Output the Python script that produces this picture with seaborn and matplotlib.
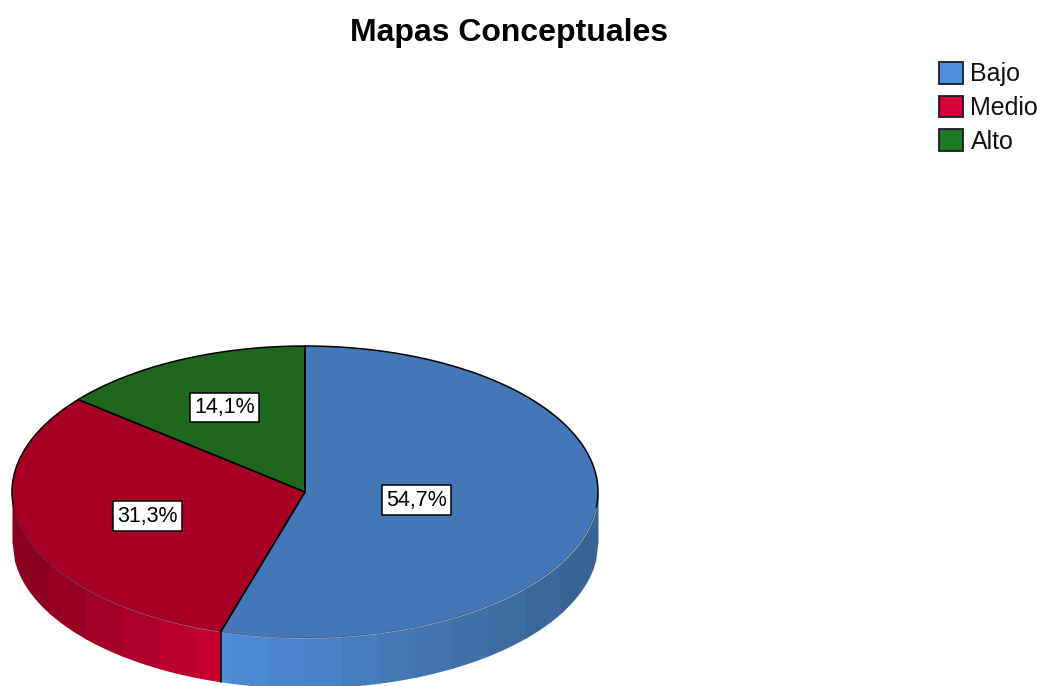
import numpy as np
import matplotlib
matplotlib.use('Agg')
import matplotlib.pyplot as plt
from matplotlib.patches import Patch
import seaborn as sns

# Mapas Conceptuales data
categories = ['Bajo', 'Medio', 'Alto']
shares = [54.7, 31.3, 14.1]
top_colors = ['#4477b8', '#a80024', '#1f661e']
legend_colors = ['#4f8fdf', '#d60036', '#1f7a26']
label_radius = [0.385, 0.563, 0.64]

sns.set_theme(style='white')
plt.rcParams['font.family'] = ['Liberation Sans', 'DejaVu Sans']

W, H = 1042, 686
cx, cy = 305, 492        # centre of the top ellipse, pixels
rx, ry = 293, 146        # ellipse radii, pixels
depth = 50 / ry

fig = plt.figure(figsize=(W / 100, H / 100), dpi=100)
ax = fig.add_axes([0, 0, 1, 1])

wedges, _ = ax.pie(shares, colors=top_colors, startangle=90, counterclock=False,
                   radius=1, wedgeprops={'linewidth': 0})
ax.set_aspect('auto')
ax.set_xlim(-cx / rx, (W - cx) / rx)
ax.set_ylim((cy - H) / ry, cy / ry)

# angles of the slice borders, clockwise from 12 o'clock
total = sum(shares)
borders = 90 - 360 * np.cumsum([0] + shares) / total
mids = (borders[:-1] + borders[1:]) / 2
split_x = np.cos(np.radians(borders[1]))   # blue/red border on the front wall


def wall_shade(x, base_light, base_dark):
    # brightest a bit left of the middle, getting darker to both sides
    t = np.clip(abs(x + 0.3) / 1.3 if x > -0.3 else abs(x + 0.3) / 0.7, 0, 1)
    a = np.array(matplotlib.colors.to_rgb(base_light))
    b = np.array(matplotlib.colors.to_rgb(base_dark))
    return tuple(a + (b - a) * t)


# side wall, drawn in vertical bands, each one overlapping the next
band_edges = np.linspace(-1, 1, 17)
band_edges = np.sort(np.append(band_edges, split_x))
for x0, x1 in zip(band_edges[:-1], band_edges[1:]):
    xm = (x0 + x1) / 2
    x_end = x1 + 0.006 if xm < split_x else min(x1 + 0.006, 1)
    if xm < split_x:
        x_end = min(x_end, split_x)
        col = wall_shade(xm, '#c8002f', '#85001f')
    else:
        col = wall_shade(xm, '#4f8ddb', '#37618f')
    xs = np.linspace(x0, x_end, 16)
    low = -np.sqrt(np.clip(1 - xs ** 2, 0, 1))
    ax.fill_between(xs, low, low - depth, color=col, linewidth=0, zorder=1)

# pie top above the wall
for w in wedges:
    w.set_zorder(2)

# outlines
t = np.radians(np.linspace(-6, 186, 200))
ax.plot(np.cos(t), np.sin(t), color='black', lw=1.1, zorder=3)
t = np.radians(np.linspace(180, 360, 200))
ax.plot(np.cos(t), np.sin(t), color='#1c1c30', lw=0.6, alpha=0.55, zorder=3)
for b in borders[:-1]:
    ax.plot([0, np.cos(np.radians(b))], [0, np.sin(np.radians(b))],
            color='black', lw=1.3, zorder=3)
low_y = np.sin(np.radians(borders[1]))
ax.plot([split_x, split_x], [low_y, low_y - depth], color='black', lw=1.2, zorder=3)

# percentage boxes
for s, m, r in zip(shares, mids, label_radius):
    ax.text(r * np.cos(np.radians(m)), r * np.sin(np.radians(m)),
            f'{s:.1f}%'.replace('.', ','), ha='center', va='center',
            fontsize=15.5, color='black', zorder=5,
            bbox={'boxstyle': 'square,pad=0.2', 'fc': 'white', 'ec': 'black', 'lw': 1.1})

handles = [Patch(facecolor=c, edgecolor='#1a1a2a', linewidth=1.3) for c in legend_colors]
fig.legend(handles, categories, loc='upper left', bbox_to_anchor=(934 / W, 1 - 57 / H),
           frameon=False, fontsize=18, handlelength=0.96, handleheight=0.96,
           handletextpad=0.3, labelspacing=0.37, borderpad=0.2, borderaxespad=0,
           labelcolor='#111111')

fig.text(509 / W, 1 - 33 / H, 'Mapas Conceptuales', ha='center', va='center',
         fontsize=23, fontweight='bold', color='black')

fig.savefig('out.png', dpi=100, facecolor='white')
